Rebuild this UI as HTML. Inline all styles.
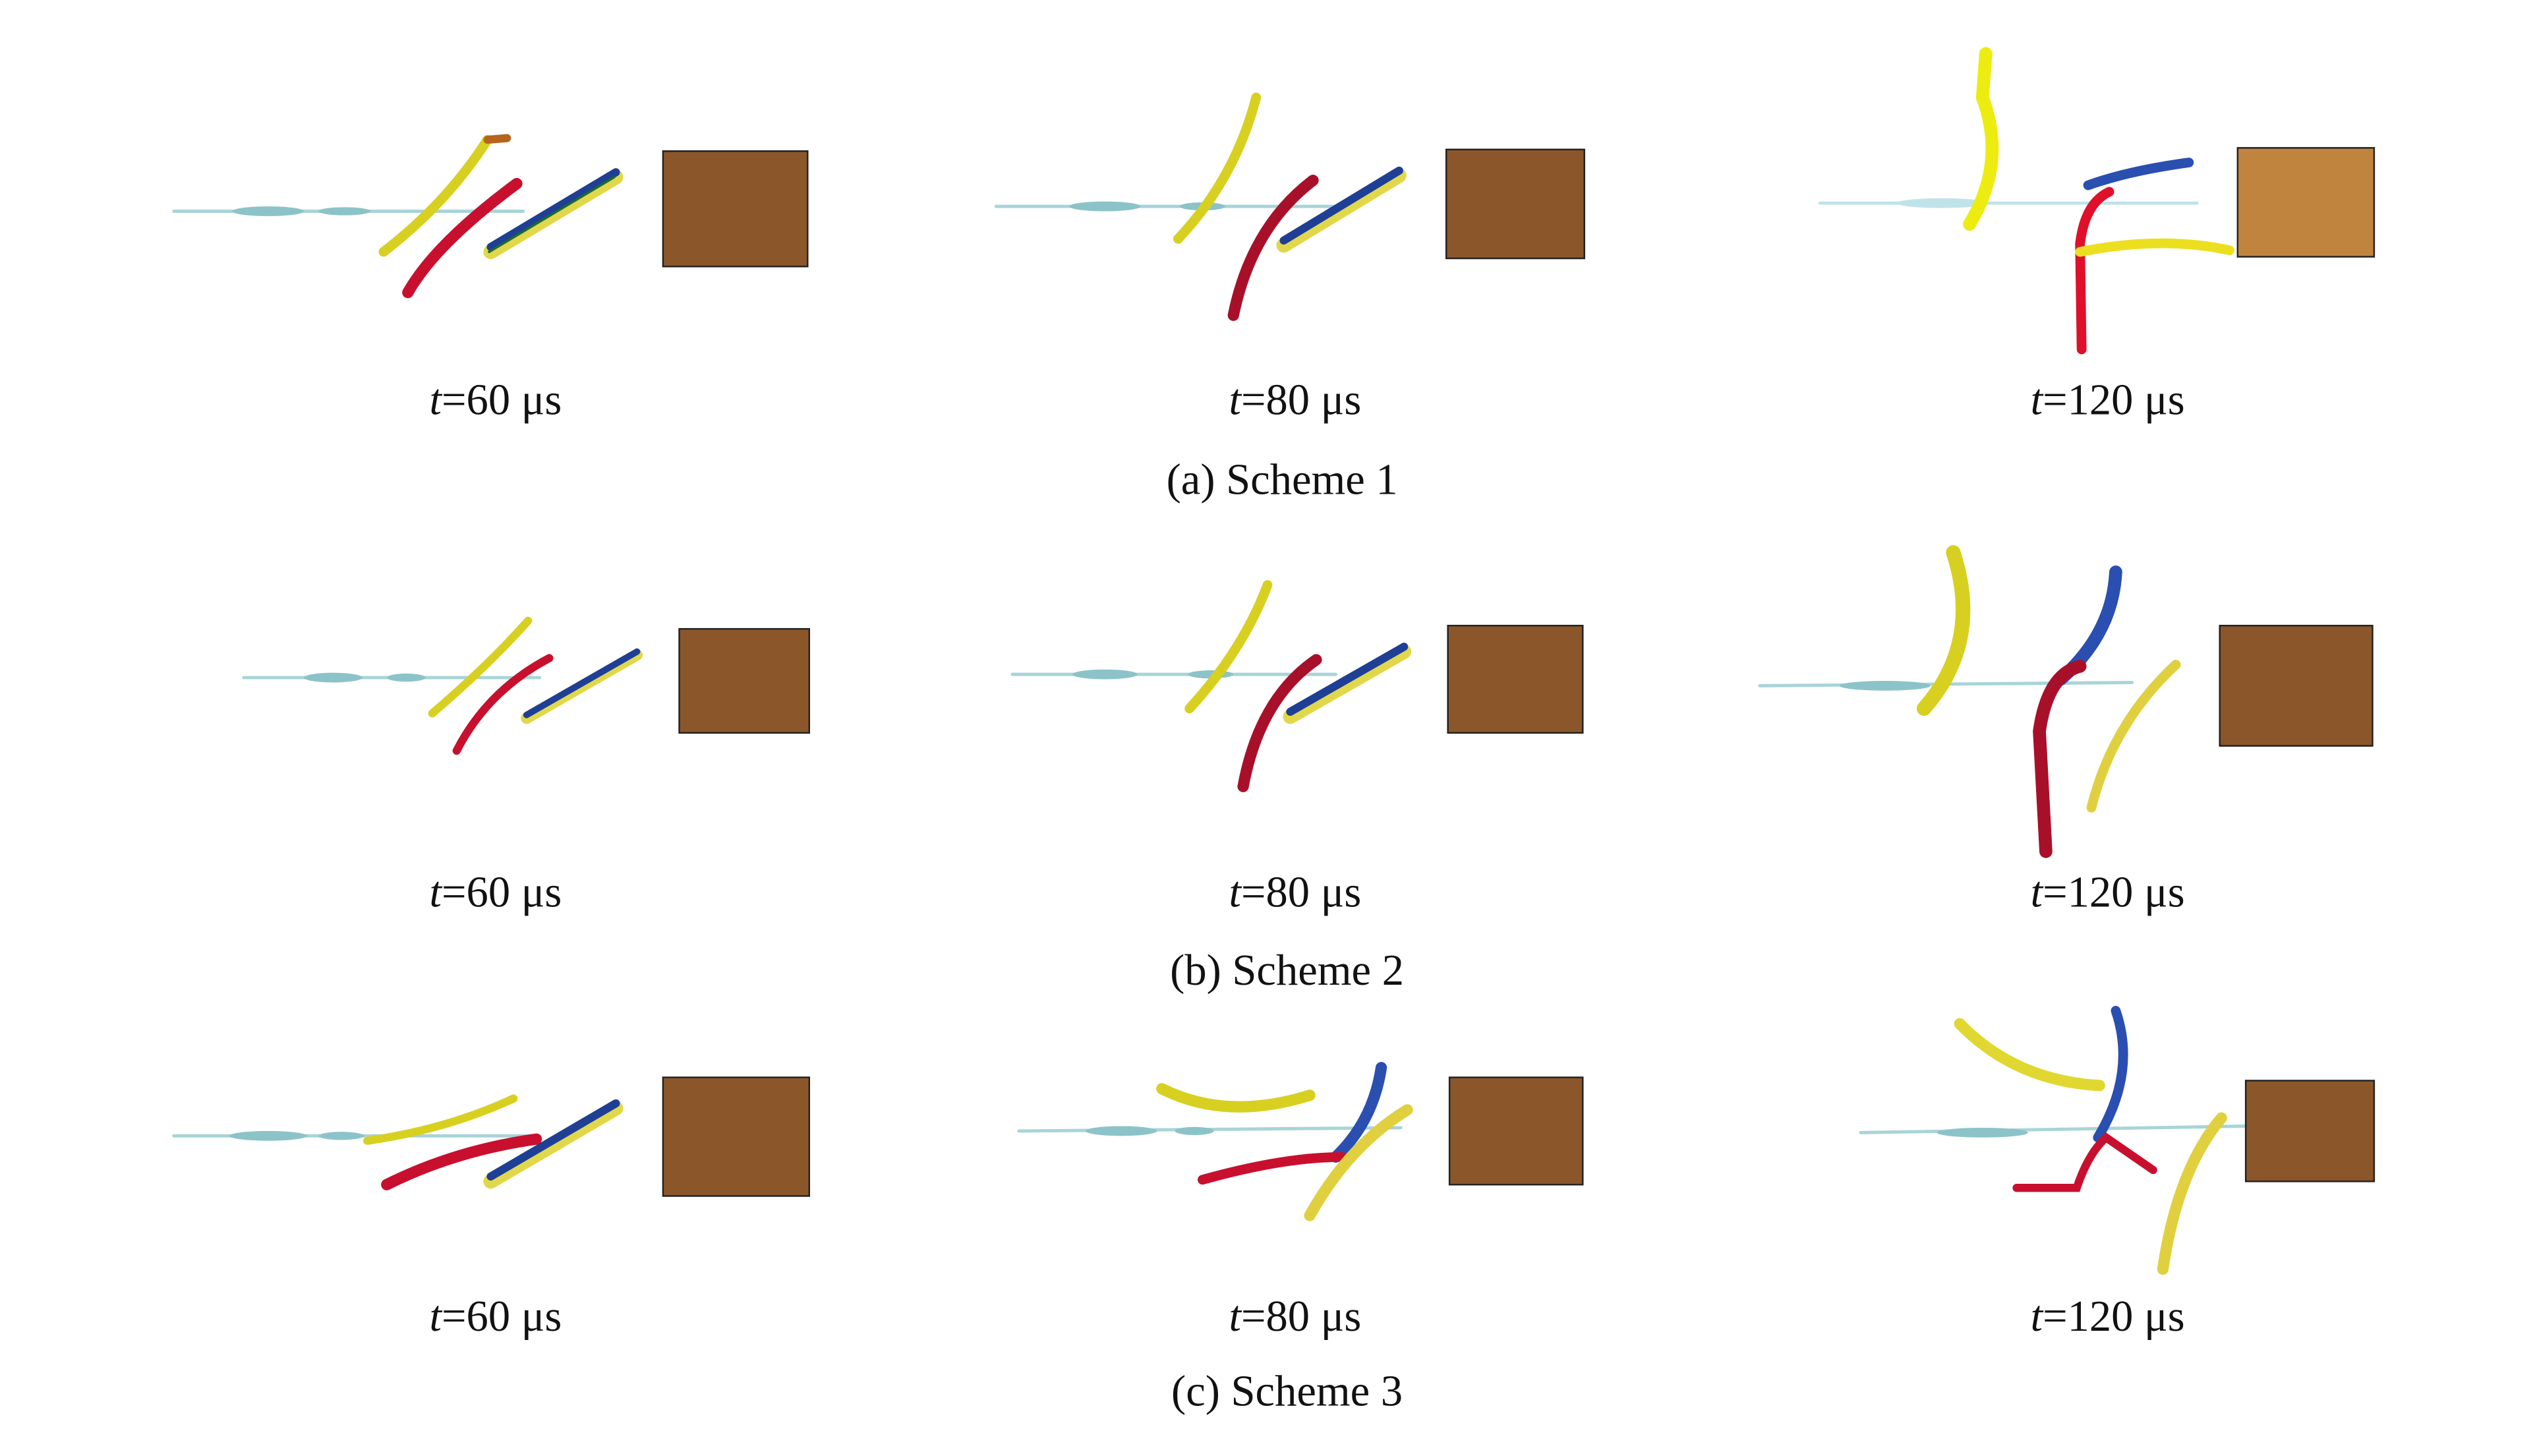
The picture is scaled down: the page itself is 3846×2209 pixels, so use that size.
<!DOCTYPE html>
<html><head><meta charset="utf-8"><style>
html,body{margin:0;padding:0;background:#fff;}
svg{display:block;}
text{font-family:"Liberation Serif",serif;font-size:27px;fill:#111;}
</style></head><body>
<svg width="3846" height="2209" viewBox="0 0 1560 896" preserveAspectRatio="none" xmlns="http://www.w3.org/2000/svg">
<g stroke-linecap="round" fill="none">
<!-- a1 -->
<line x1="107" y1="130" x2="322" y2="130" stroke="#a8d4d8" stroke-width="2"/>
<ellipse cx="165" cy="130" rx="22" ry="3" fill="#8cc3c8" stroke="none"/>
<ellipse cx="212" cy="130" rx="16" ry="2.5" fill="#8cc3c8" stroke="none"/>
<path d="M236,155 Q275,125 300,86" stroke="#d8d020" stroke-width="6"/>
<path d="M300,86 L312,85" stroke="#b5651d" stroke-width="5"/>
<path d="M251,180 Q268,150 318,113" stroke="#c8102e" stroke-width="7"/>
<line x1="302" y1="155" x2="379" y2="109" stroke="#e0d84a" stroke-width="9"/>
<line x1="302" y1="152" x2="379" y2="106" stroke="#1f3f95" stroke-width="5"/>
<line x1="301" y1="155" x2="378" y2="109" stroke="#1c6a30" stroke-width="1.5"/>
<rect x="408" y="93" width="89" height="71" fill="#8b572a" stroke="#222" stroke-width="1"/>
<!-- a2 -->
<line x1="613" y1="127" x2="822" y2="127" stroke="#a8d4d8" stroke-width="2"/>
<ellipse cx="680" cy="127" rx="22" ry="3" fill="#8cc3c8" stroke="none"/>
<ellipse cx="740" cy="127" rx="14" ry="2.5" fill="#8cc3c8" stroke="none"/>
<path d="M725,147 Q760,110 773,60" stroke="#d8d020" stroke-width="6"/>
<path d="M759,194 Q770,140 808,111" stroke="#a8102a" stroke-width="7"/>
<line x1="790" y1="151" x2="861" y2="108" stroke="#e0d84a" stroke-width="9"/>
<line x1="790" y1="148" x2="861" y2="105" stroke="#1f3f95" stroke-width="5"/>
<rect x="890" y="92" width="85" height="67" fill="#8b572a" stroke="#222" stroke-width="1"/>
<!-- a3 -->
<line x1="1120" y1="125" x2="1352" y2="125" stroke="#bfe3e8" stroke-width="2"/>
<ellipse cx="1195" cy="125" rx="28" ry="3" fill="#bfe3e8" stroke="none"/>
<path d="M1212,138 Q1235,100 1220,60 L1222,33" stroke="#ecec10" stroke-width="8"/>
<path d="M1285,114 Q1310,105 1347,100" stroke="#2a4fb0" stroke-width="6"/>
<path d="M1281,215 L1280,150 Q1283,125 1298,118" stroke="#e0102a" stroke-width="6"/>
<path d="M1280,155 Q1330,145 1372,154" stroke="#ecdf20" stroke-width="6"/>
<rect x="1377" y="91" width="84" height="67" fill="#c0843f" stroke="#222" stroke-width="1"/>
<!-- b1 -->
<line x1="150" y1="417" x2="332" y2="417" stroke="#a8d4d8" stroke-width="2"/>
<ellipse cx="205" cy="417" rx="18" ry="3" fill="#8cc3c8" stroke="none"/>
<ellipse cx="250" cy="417" rx="12" ry="2.5" fill="#8cc3c8" stroke="none"/>
<path d="M266,439 Q300,410 325,382" stroke="#d8d020" stroke-width="5"/>
<path d="M281,462 Q300,425 338,405" stroke="#c8102e" stroke-width="5"/>
<line x1="324" y1="442" x2="392" y2="403" stroke="#e0d84a" stroke-width="7"/>
<line x1="324" y1="440" x2="392" y2="401" stroke="#1f3f95" stroke-width="4"/>
<rect x="418" y="387" width="80" height="64" fill="#8b572a" stroke="#222" stroke-width="1"/>
<!-- b2 -->
<line x1="623" y1="415" x2="822" y2="415" stroke="#a8d4d8" stroke-width="2"/>
<ellipse cx="680" cy="415" rx="20" ry="3" fill="#8cc3c8" stroke="none"/>
<ellipse cx="745" cy="415" rx="14" ry="2.5" fill="#8cc3c8" stroke="none"/>
<path d="M732,436 Q765,400 780,360" stroke="#d8d020" stroke-width="6"/>
<path d="M765,484 Q775,430 810,406" stroke="#a8102a" stroke-width="7"/>
<line x1="794" y1="441" x2="864" y2="401" stroke="#e0d84a" stroke-width="9"/>
<line x1="794" y1="438" x2="864" y2="398" stroke="#1f3f95" stroke-width="5"/>
<rect x="891" y="385" width="83" height="66" fill="#8b572a" stroke="#222" stroke-width="1"/>
<!-- b3 -->
<line x1="1083" y1="422" x2="1312" y2="420" stroke="#a8d4d8" stroke-width="2"/>
<ellipse cx="1160" cy="422" rx="28" ry="3" fill="#8cc3c8" stroke="none"/>
<path d="M1184,436 Q1220,395 1202,340" stroke="#d8d020" stroke-width="9"/>
<path d="M1268,418 Q1300,390 1302,352" stroke="#2a4fb0" stroke-width="8"/>
<path d="M1259,524 L1255,450 Q1260,415 1280,410" stroke="#a8102a" stroke-width="8"/>
<path d="M1287,497 Q1300,445 1339,409" stroke="#e0d040" stroke-width="6"/>
<rect x="1366" y="385" width="94" height="74" fill="#8b572a" stroke="#222" stroke-width="1"/>
<!-- c1 -->
<line x1="107" y1="699" x2="332" y2="699" stroke="#a8d4d8" stroke-width="2"/>
<ellipse cx="165" cy="699" rx="24" ry="3" fill="#8cc3c8" stroke="none"/>
<ellipse cx="210" cy="699" rx="14" ry="2.5" fill="#8cc3c8" stroke="none"/>
<path d="M226,702 Q275,695 316,676" stroke="#d8d020" stroke-width="5"/>
<path d="M238,729 Q280,708 330,701" stroke="#c8102e" stroke-width="7"/>
<line x1="302" y1="727" x2="379" y2="682" stroke="#e0d84a" stroke-width="9"/>
<line x1="302" y1="724" x2="379" y2="679" stroke="#1f3f95" stroke-width="5"/>
<rect x="408" y="663" width="90" height="73" fill="#8b572a" stroke="#222" stroke-width="1"/>
<!-- c2 -->
<line x1="627" y1="696" x2="862" y2="694" stroke="#a8d4d8" stroke-width="2"/>
<ellipse cx="690" cy="696" rx="22" ry="3" fill="#8cc3c8" stroke="none"/>
<ellipse cx="735" cy="696" rx="12" ry="2.5" fill="#8cc3c8" stroke="none"/>
<path d="M715,670 Q755,690 806,674" stroke="#d8d020" stroke-width="7"/>
<path d="M822,712 Q845,690 850,657" stroke="#2a4fb0" stroke-width="7"/>
<path d="M740,726 Q790,712 826,712" stroke="#c8102e" stroke-width="6"/>
<path d="M806,748 Q830,705 866,683" stroke="#e0d040" stroke-width="7"/>
<rect x="892" y="663" width="82" height="66" fill="#8b572a" stroke="#222" stroke-width="1"/>
<!-- c3 -->
<line x1="1145" y1="697" x2="1382" y2="693" stroke="#a8d4d8" stroke-width="2"/>
<ellipse cx="1220" cy="697" rx="28" ry="3" fill="#8cc3c8" stroke="none"/>
<path d="M1206,630 Q1240,665 1292,668" stroke="#e0d830" stroke-width="7"/>
<path d="M1291,700 Q1315,660 1302,622" stroke="#2a4fb0" stroke-width="6"/>
<path d="M1241,731 L1278,731 Q1285,710 1296,700 L1325,720" stroke="#c8102e" stroke-width="5"/>
<path d="M1331,781 Q1340,720 1367,688" stroke="#e0d040" stroke-width="7"/>
<rect x="1382" y="665" width="79" height="62" fill="#8b572a" stroke="#222" stroke-width="1"/>
</g>
<g text-anchor="middle">
<text x="305" y="255"><tspan font-style="italic">t</tspan>=60 μs</text>
<text x="797" y="255"><tspan font-style="italic">t</tspan>=80 μs</text>
<text x="1297" y="255"><tspan font-style="italic">t</tspan>=120 μs</text>
<text x="789" y="304">(a) Scheme 1</text>
<text x="305" y="558"><tspan font-style="italic">t</tspan>=60 μs</text>
<text x="797" y="558"><tspan font-style="italic">t</tspan>=80 μs</text>
<text x="1297" y="558"><tspan font-style="italic">t</tspan>=120 μs</text>
<text x="792" y="606">(b) Scheme 2</text>
<text x="305" y="819"><tspan font-style="italic">t</tspan>=60 μs</text>
<text x="797" y="819"><tspan font-style="italic">t</tspan>=80 μs</text>
<text x="1297" y="819"><tspan font-style="italic">t</tspan>=120 μs</text>
<text x="792" y="865">(c) Scheme 3</text>
</g>
</svg>
</body></html>
